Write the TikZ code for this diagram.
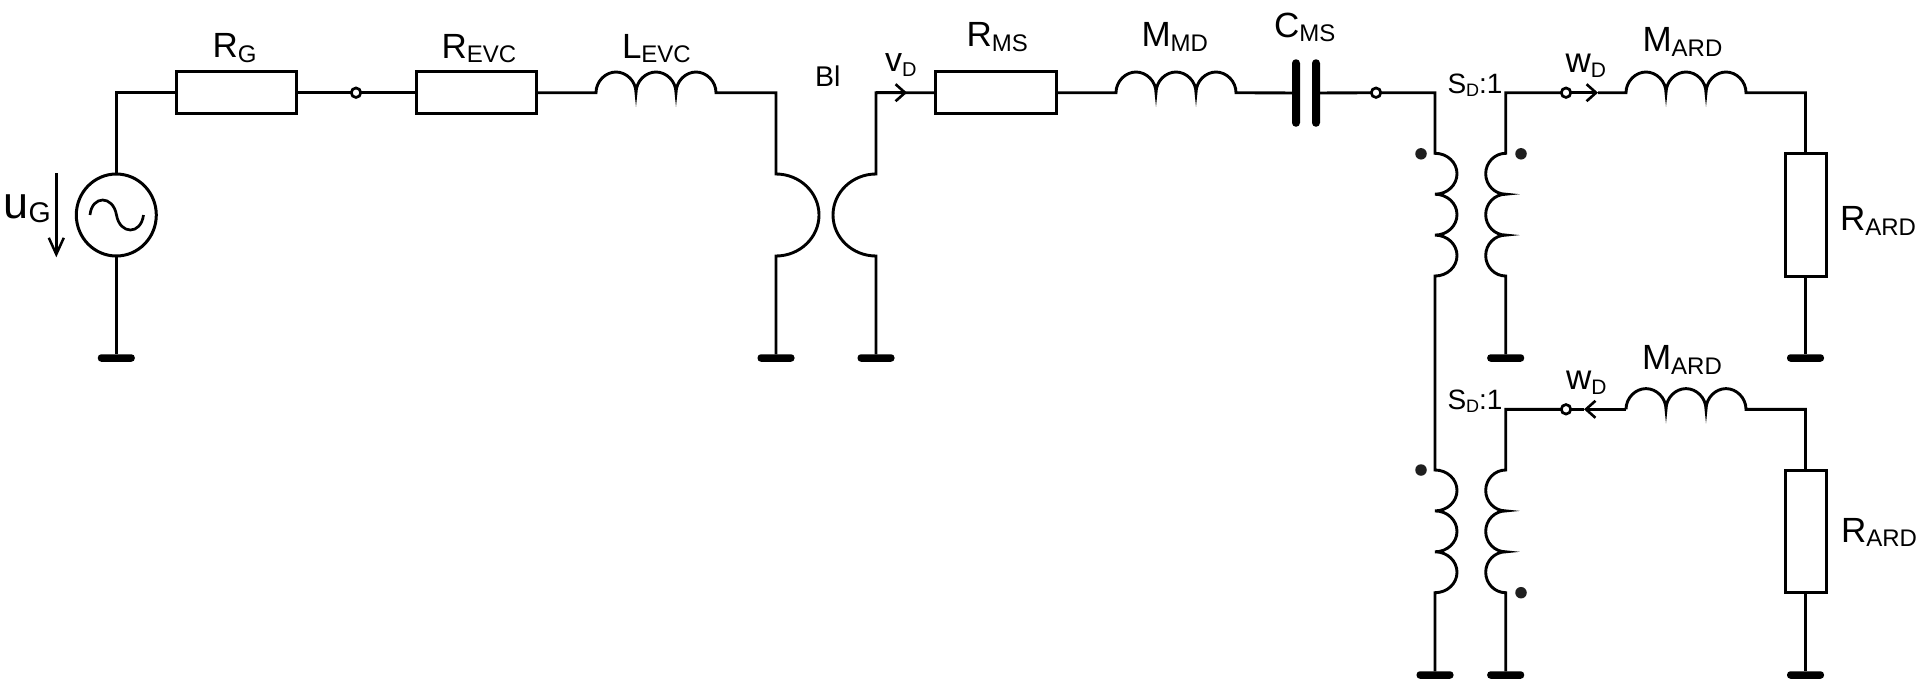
\documentclass[tikz,border=0pt]{standalone}
\usepackage{fontspec}
\setmainfont{Liberation Sans}
\usetikzlibrary{shapes.geometric,arrows.meta}
\newcommand{\mainsz}[1]{\fontsize{#1}{#1}\selectfont}
\newcommand{\subt}[3]{\raisebox{-#1pt}{\mainsz{#2}#3}}
\tikzset{
  wire/.style={line width=2.9pt,line join=miter},
  res/.style={draw,line width=3pt,rectangle,inner sep=0pt,outer sep=0pt,fill=white},
  resh/.style={res,minimum width=120.5pt,minimum height=41.7pt},
  resv/.style={res,minimum width=41pt,minimum height=122.7pt},
  gnd/.style={fill=black,rectangle,rounded corners=3.4pt,minimum width=37pt,minimum height=7.5pt,inner sep=0pt,outer sep=0pt},
  plate/.style={fill=black,rectangle,rounded corners=3.9pt,minimum width=8pt,minimum height=67.5pt,inner sep=0pt,outer sep=0pt},
  term/.style={draw,fill=white,circle,line width=2.7pt,minimum size=9.5pt,inner sep=0pt,outer sep=0pt},
  pdot/.style={fill=black!88,circle,minimum size=11.5pt,inner sep=0pt,outer sep=0pt},
  src/.style={draw,ellipse,line width=3pt,minimum width=80pt,minimum height=82pt,inner sep=0pt,outer sep=0pt},
  lbl/.style={anchor=base west,inner sep=0pt,outer sep=0pt},
  flow/.style={wire,-{Straight Barb[length=9.5pt,width=17pt,line width=2.6pt]}},
  volt/.style={line width=2.5pt,-{Straight Barb[length=16.5pt,width=15pt,line width=2.5pt]}},
  humps/.style={insert path={
    .. controls +(0,-11.4) and +(-10.5,0) .. ++(20,-20.7) .. controls +(10.5,0) and +(0,-11.4) .. ++(20,20.7)
    .. controls +(0,-11.4) and +(-10.5,0) .. ++(20,-20.7) .. controls +(10.5,0) and +(0,-11.4) .. ++(20,20.7)
    .. controls +(0,-11.4) and +(-10.5,0) .. ++(20,-20.7) .. controls +(10.5,0) and +(0,-11.4) .. ++(20,20.7)}},
  coilr/.style={insert path={
    .. controls +(12.2,0) and +(0,-11.3) .. ++(22,20.45) .. controls +(0,11.3) and +(12.2,0) .. ++(-22,20.45)
    .. controls +(12.2,0) and +(0,-11.3) .. ++(22,20.45) .. controls +(0,11.3) and +(12.2,0) .. ++(-22,20.45)
    .. controls +(12.2,0) and +(0,-11.3) .. ++(22,20.45) .. controls +(0,11.3) and +(12.2,0) .. ++(-22,20.45)}},
  coill/.style={insert path={
    .. controls +(-11,0) and +(0,-11.3) .. ++(-20,20.45) .. controls +(0,11.3) and +(-11,0) .. ++(20,20.45)
    .. controls +(-11,0) and +(0,-11.3) .. ++(-20,20.45) .. controls +(0,11.3) and +(-11,0) .. ++(20,20.45)
    .. controls +(-11,0) and +(0,-11.3) .. ++(-20,20.45) .. controls +(0,11.3) and +(-11,0) .. ++(20,20.45)}},
}
\begin{document}
\begin{tikzpicture}[x=1pt,y=-1pt]
\path[use as bounding box,fill=white] (0,0) rectangle (1920,681);
% elements
\node[src] (vs) at (116.3,215) {};
\node[resh] (rg) at (236.5,92.7) {};
\node[term] (t1) at (356,92.7) {};
\node[resh] (revc) at (476.5,92.7) {};
\node[resh] (rms) at (996,92.7) {};
\node[plate] (c1) at (1296,93) {};
\node[plate] (c2) at (1316,93) {};
\node[term] (t2) at (1376,92.7) {};
\node[term] (t3) at (1566,92.7) {};
\node[term] (t4) at (1566,409.3) {};
\node[resv] (rard1) at (1805.5,214.7) {};
\node[resv] (rard2) at (1805.5,531.4) {};
\node[gnd] (g1) at (116.3,358) {};
\node[gnd] (g2) at (776,358) {};
\node[gnd] (g3) at (876,358) {};
\node[gnd] (g4) at (1505.7,358) {};
\node[gnd] (g5) at (1805.5,358) {};
\node[gnd] (g6) at (1435,675) {};
\node[gnd] (g7) at (1505.7,675) {};
\node[gnd] (g8) at (1805.5,675) {};
\node[pdot] (d1) at (1421,153.8) {};
\node[pdot] (d2) at (1521,153.8) {};
\node[pdot] (d3) at (1421,470) {};
\node[pdot] (d4) at (1521,592.7) {};
% corner and end points
\coordinate (a1) at (116.3,92.7);
\coordinate (levcl) at (596,92.7);
\coordinate (b1) at (776,92.7);
\coordinate (b1t) at (776,174);
\coordinate (b1b) at (776,256);
\coordinate (b2) at (876,92.7);
\coordinate (b2t) at (876,174);
\coordinate (b2b) at (876,256);
\coordinate (vtip) at (907,92.7);
\coordinate (mmdl) at (1116,92.7);
\coordinate (p1) at (1435,92.7);
\coordinate (p1t) at (1435,153.3);
\coordinate (p2t) at (1435,470);
\coordinate (s1) at (1505.7,92.7);
\coordinate (s1t) at (1505.7,153.3);
\coordinate (w1tip) at (1598,92.7);
\coordinate (m1l) at (1626,92.7);
\coordinate (r1) at (1805.5,92.7);
\coordinate (s2) at (1505.7,409.3);
\coordinate (s2t) at (1505.7,470);
\coordinate (w2tip) at (1584,409.3);
\coordinate (m2l) at (1626,409.3);
\coordinate (r2) at (1805.5,409.3);
\coordinate (ua) at (56.3,173.3);
\coordinate (ub) at (56.3,257.3);
% source symbol
\draw[line width=2.7pt] (90,215) .. controls (92,195) and (113,195) .. (116.5,215) .. controls (120,235) and (141,235) .. (143.5,215);
\draw[volt] (ua) -- (ub);
% wires
\draw[wire] (vs.north) -- (a1) -- (rg.west);
\draw[wire] (vs.south) -- (g1);
\draw[wire] (rg.east) -- (t1);
\draw[wire] (t1) -- (revc.west);
\draw[wire] (revc.east) -- (levcl) [humps] -- (b1) -- (b1t)
  .. controls +(23.7,0) and +(0,-22.6) .. ++(43,41) .. controls +(0,22.6) and +(23.7,0) .. (b1b) -- (g2);
\draw[wire] (g3) -- (b2b) .. controls +(-23.7,0) and +(0,22.6) .. ++(-43,-41) .. controls +(0,-22.6) and +(-23.7,0) .. (b2t) -- (b2) -- (rms.west);
\draw[flow] (b2) -- (vtip);
\draw[wire] (rms.east) -- (mmdl) [humps] -- (c1);
\draw[wire] (c2) -- (t2);
\draw[wire] (t2) -- (p1) -- (p1t) [coilr] -- (p2t) [coilr] -- (g6);
\draw[wire] (t3) -- (s1) -- (s1t) [coill] -- (g4);
\draw[flow] (t3) -- (w1tip);
\draw[wire] (w1tip) -- (m1l) [humps] -- (r1) -- (rard1.north);
\draw[wire] (rard1.south) -- (g5);
\draw[wire] (t4) -- (s2) -- (s2t) [coill] -- (g7);
\draw[flow] (m2l) -- (w2tip);
\draw[wire] (t4) -- (w2tip);
\draw[wire] (m2l) [humps] -- (r2) -- (rard2.north);
\draw[wire] (rard2.south) -- (g8);
% labels
\node[lbl,font=\mainsz{35}] (lrg) at (212.5,57.3) {R\subt{5}{24}{G}};
\node[lbl,font=\mainsz{35}] (lrevc) at (441.5,58) {R\subt{4.5}{24}{EVC}};
\node[lbl,font=\mainsz{35}] (llevc) at (622,58) {L\subt{4.5}{24}{EVC}};
\node[lbl,font=\mainsz{45}] (lug) at (3.5,218.3) {u\subt{4.5}{28.5}{G}};
\node[lbl,font=\mainsz{28.5}] (lbi) at (815,86) {Bl};
\node[lbl,font=\mainsz{34}] (lvd) at (885,71) {v\subt{5}{20}{D}};
\node[lbl,font=\mainsz{35}] (lrms) at (966.5,46.7) {R\subt{5}{24}{MS}};
\node[lbl,font=\mainsz{35}] (lmmd) at (1141.5,46.7) {M\subt{5}{24}{MD}};
\node[lbl,font=\mainsz{35}] (lcms) at (1274,37.3) {C\subt{4.5}{24}{MS}};
\node[lbl,font=\mainsz{28}] (lsd1) at (1447.5,93.3) {S\subt{3.5}{18}{D}:1};
\node[lbl,font=\mainsz{35}] (lwd1) at (1565.5,72.7) {w\subt{4.7}{21}{D}};
\node[lbl,font=\mainsz{35}] (lm1) at (1642.5,51.7) {M\subt{5}{24}{ARD}};
\node[lbl,font=\mainsz{35}] (lr1) at (1840,230.7) {R\subt{4.7}{24}{ARD}};
\node[lbl,font=\mainsz{28}] (lsd2) at (1447.5,409.3) {S\subt{3.5}{18}{D}:1};
\node[lbl,font=\mainsz{35}] (lwd2) at (1566,389.3) {w\subt{4.7}{21}{D}};
\node[lbl,font=\mainsz{35}] (lm2) at (1642,369) {M\subt{5}{24}{ARD}};
\node[lbl,font=\mainsz{35}] (lr2) at (1841,542) {R\subt{4.7}{24}{ARD}};
\end{tikzpicture}
\end{document}
